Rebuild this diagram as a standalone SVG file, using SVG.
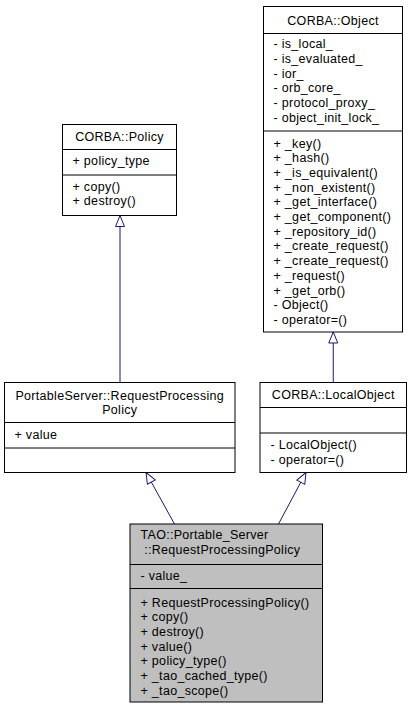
<svg xmlns="http://www.w3.org/2000/svg" width="412" height="709" viewBox="0 0 412 709">
<style>
.box{fill:#ffffff;stroke:#000000;stroke-width:1}
.gray{fill:#bfbfbf}
.sep{stroke:#000000;stroke-width:1}
text{font-family:"Liberation Sans",Arial,sans-serif;font-size:12.5px;letter-spacing:0.3px;fill:#000000}
.c{text-anchor:middle}
.edge{fill:none;stroke:#191970;stroke-width:1}
</style>
<defs>
<marker id="inh" markerUnits="userSpaceOnUse" viewBox="-1 -1 13 11" refX="11" refY="4.5" markerWidth="13" markerHeight="11" orient="auto" overflow="visible">
<path d="M0,0 L11,4.5 L0,9 Z" fill="#ffffff" stroke="#191970" stroke-width="1"/>
</marker>
</defs>
<rect width="412" height="709" fill="#ffffff"/>
<g id="connectors">
<path class="edge" d="M120,382.5 L120,215.5" marker-end="url(#inh)"/>
<path class="edge" d="M333.25,382.5 L333.25,332" marker-end="url(#inh)"/>
<path class="edge" d="M174.5,524 L146,472.5" marker-end="url(#inh)"/>
<path class="edge" d="M278.5,524 L306,472.5" marker-end="url(#inh)"/>
</g>
<g id="node-corba-object">
<rect class="box" x="263.5" y="6.5" width="139" height="325.5"/>
<line class="sep" x1="263.5" y1="33.5" x2="402.5" y2="33.5"/>
<line class="sep" x1="263.5" y1="131" x2="402.5" y2="131"/>
<text class="c" x="333" y="24.5">CORBA::Object</text>
<text x="273.5" y="47.7">- is_local_</text>
<text x="273.5" y="62.6">- is_evaluated_</text>
<text x="273.5" y="77.5">- ior_</text>
<text x="273.5" y="92.4">- orb_core_</text>
<text x="273.5" y="107.3">- protocol_proxy_</text>
<text x="273.5" y="122.2">- object_init_lock_</text>
<text x="273.5" y="147.5">+ _key()</text>
<text x="273.5" y="162.2">+ _hash()</text>
<text x="273.5" y="176.9">+ _is_equivalent()</text>
<text x="273.5" y="191.6">+ _non_existent()</text>
<text x="273.5" y="206.3">+ _get_interface()</text>
<text x="273.5" y="221">+ _get_component()</text>
<text x="273.5" y="235.7">+ _repository_id()</text>
<text x="273.5" y="250.4">+ _create_request()</text>
<text x="273.5" y="265.1">+ _create_request()</text>
<text x="273.5" y="279.8">+ _request()</text>
<text x="273.5" y="294.5">+ _get_orb()</text>
<text x="273.5" y="309.2">- Object()</text>
<text x="273.5" y="323.9">- operator=()</text>
</g>
<g id="node-corba-policy">
<rect class="box" x="62.5" y="124.5" width="114" height="91"/>
<line class="sep" x1="62.5" y1="149.5" x2="176.5" y2="149.5"/>
<line class="sep" x1="62.5" y1="175" x2="176.5" y2="175"/>
<text class="c" x="119.5" y="141">CORBA::Policy</text>
<text x="72.5" y="165">+ policy_type</text>
<text x="72.5" y="190.5">+ copy()</text>
<text x="72.5" y="205.2">+ destroy()</text>
</g>
<g id="node-portableserver-rpp">
<rect class="box" x="4.5" y="382.5" width="230.5" height="90"/>
<line class="sep" x1="4.5" y1="422.5" x2="235" y2="422.5"/>
<line class="sep" x1="4.5" y1="448" x2="235" y2="448"/>
<text class="c" x="119.75" y="399.5">PortableServer::RequestProcessing</text>
<text class="c" x="119.75" y="414">Policy</text>
<text x="14.5" y="438.5">+ value</text>
</g>
<g id="node-corba-localobject">
<rect class="box" x="260" y="382.5" width="146.5" height="90"/>
<line class="sep" x1="260" y1="407.5" x2="406.5" y2="407.5"/>
<line class="sep" x1="260" y1="433" x2="406.5" y2="433"/>
<text class="c" x="333.25" y="399">CORBA::LocalObject</text>
<text x="270.5" y="449">- LocalObject()</text>
<text x="270.5" y="463.7">- operator=()</text>
</g>
<g id="node-tao-rpp">
<rect class="box gray" x="130" y="524" width="192.5" height="178"/>
<line class="sep" x1="130" y1="564.5" x2="322.5" y2="564.5"/>
<line class="sep" x1="130" y1="588.5" x2="322.5" y2="588.5"/>
<text x="140.5" y="539">TAO::Portable_Server</text>
<text x="144.2" y="554">::RequestProcessingPolicy</text>
<text x="140.5" y="580">- value_</text>
<text x="140.5" y="606.5">+ RequestProcessingPolicy()</text>
<text x="140.5" y="621.2">+ copy()</text>
<text x="140.5" y="635.9">+ destroy()</text>
<text x="140.5" y="650.6">+ value()</text>
<text x="140.5" y="665.3">+ policy_type()</text>
<text x="140.5" y="680">+ _tao_cached_type()</text>
<text x="140.5" y="694.7">+ _tao_scope()</text>
</g>
</svg>
